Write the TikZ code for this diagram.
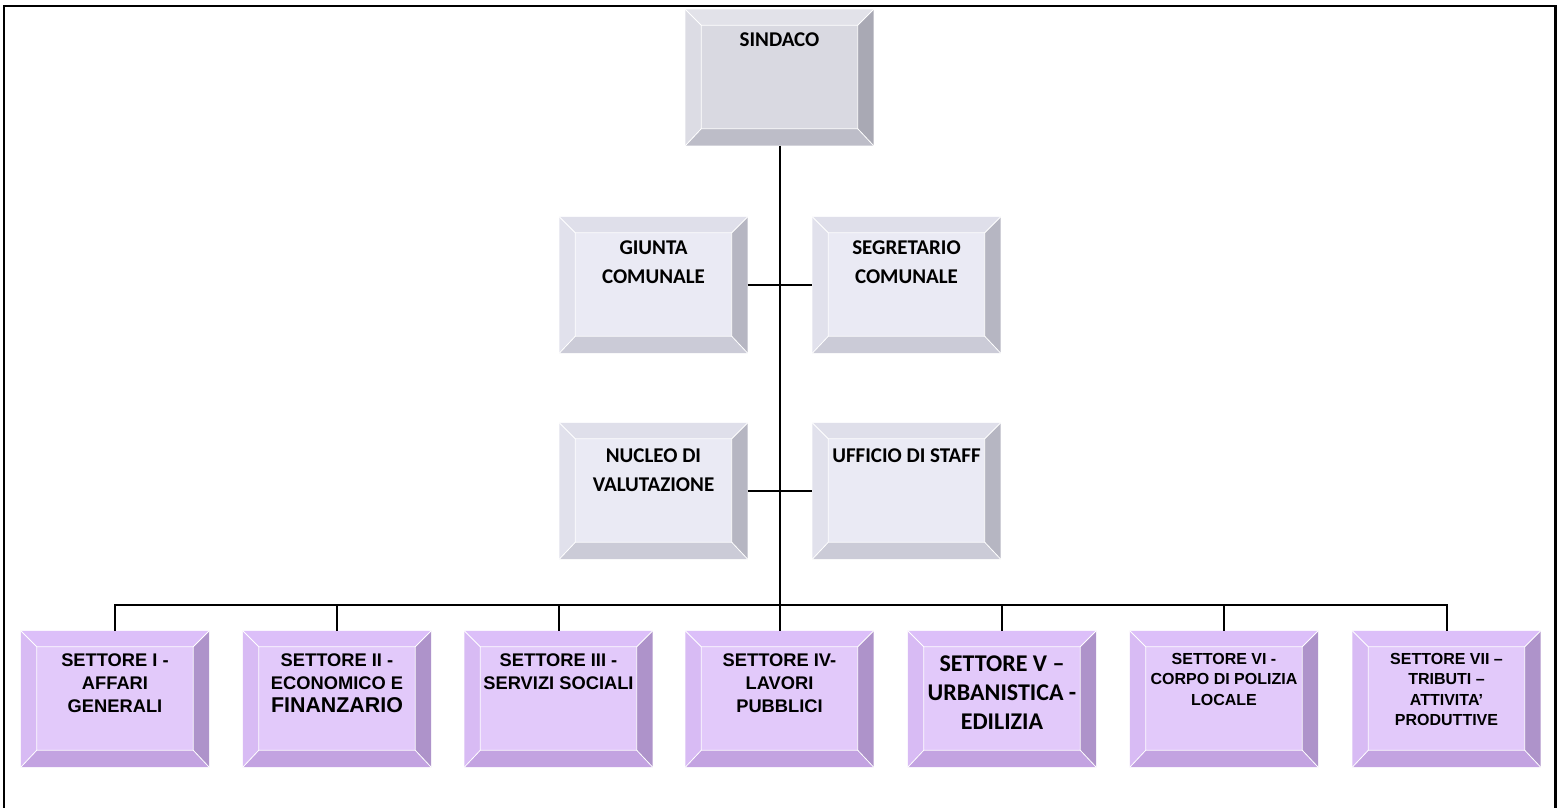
\documentclass[tikz,border=0pt]{standalone}
\usepackage{fontspec}
\newfontfamily\calibrifont{Carlito}
\newfontfamily\arialfont{Liberation Sans}
\usetikzlibrary{calc}

% grey (Sindaco)
\definecolor{sface}{HTML}{D9D9E1}
\definecolor{stop}{HTML}{E2E2E9}
\definecolor{sleft}{HTML}{DCDCE4}
\definecolor{sright}{HTML}{A9A9B4}
\definecolor{sbot}{HTML}{BDBDC8}
% light grey (staff boxes)
\definecolor{gface}{HTML}{EAEAF4}
\definecolor{gtop}{HTML}{DFDFEA}
\definecolor{gleft}{HTML}{E1E1EC}
\definecolor{gright}{HTML}{B6B6C2}
\definecolor{gbot}{HTML}{CBCBD7}
% purple (settori)
\definecolor{pface}{HTML}{E2C9FA}
\definecolor{ptop}{HTML}{DCBFF9}
\definecolor{pleft}{HTML}{D8BBF4}
\definecolor{pright}{HTML}{AE93CA}
\definecolor{pbot}{HTML}{C3A3E1}

\newcommand\gfont{\calibrifont\bfseries\fontsize{21}{29}\selectfont}
\newcommand\pfont{\arialfont\bfseries\fontsize{18.3}{23}\selectfont}
\newcommand\psmallfont{\arialfont\bfseries\fontsize{16}{20.5}\selectfont}
\newcommand\pcalfont{\calibrifont\bfseries\fontsize{24}{29}\selectfont}

\tikzset{
  conn/.style={draw=black, line width=2pt},
  bevline/.style={draw=white, line width=0.8pt},
  boxframe/.style={minimum width=188pt, minimum height=136pt, inner sep=0pt, draw=none},
  boxtext/.style={anchor=north, align=center, inner sep=0pt, text=black}
}

% #1 name, #2 centre, #3 palette, #4 offset of text top, #5 font, #6 text
\newcommand\bevelbox[6]{%
  \node[boxframe] (#1) at (#2) {};
  \coordinate (#1-a) at ($(#1.north west)+(16,16)$);
  \coordinate (#1-b) at ($(#1.north east)+(-16,16)$);
  \coordinate (#1-c) at ($(#1.south east)+(-16,-17)$);
  \coordinate (#1-d) at ($(#1.south west)+(16,-17)$);
  \fill[#3face] (#1-a) rectangle (#1-c);
  \fill[#3top] (#1.north west) -- (#1.north east) -- (#1-b) -- (#1-a) -- cycle;
  \fill[#3right] (#1.north east) -- (#1.south east) -- (#1-c) -- (#1-b) -- cycle;
  \fill[#3bot] (#1.south west) -- (#1.south east) -- (#1-c) -- (#1-d) -- cycle;
  \fill[#3left] (#1.north west) -- (#1-a) -- (#1-d) -- (#1.south west) -- cycle;
  \draw[bevline] (#1.north west) -- (#1-a) (#1.north east) -- (#1-b)
     (#1.south east) -- (#1-c) (#1.south west) -- (#1-d) (#1-a) rectangle (#1-c);
  \node[boxtext, font=#5] (#1-t) at ($(#1.north)+(0,#4)$) {#6};
}

\begin{document}
\begin{tikzpicture}[x=1pt, y=-1pt]
\useasboundingbox (0,0) rectangle (1558,807);
\fill[white] (0,0) rectangle (1558,807);

% outer frame
\draw[line width=2.2pt] (3.7,830) -- (3.7,5.7) -- (1555.5,5.7) -- (1555.5,830);

\bevelbox{sindaco}{779.5,77.5}{s}{23}{\gfont}{SINDACO}
\bevelbox{giunta}{653.5,285}{g}{24}{\gfont}{GIUNTA\\COMUNALE}
\bevelbox{segretario}{906.5,285}{g}{24}{\gfont}{SEGRETARIO\\COMUNALE}
\bevelbox{nucleo}{653.5,491}{g}{26}{\gfont}{NUCLEO DI\\VALUTAZIONE}
\bevelbox{ufficio}{906.5,491}{g}{26}{\gfont}{UFFICIO DI STAFF}

\bevelbox{s1}{115,699}{p}{22.3}{\pfont}{SETTORE I -\\AFFARI\\GENERALI}
\bevelbox{s2}{337,699}{p}{22.3}{\pfont}{SETTORE II -\\ECONOMICO E\\{\fontsize{21.4}{23}\selectfont FINANZARIO}}
\bevelbox{s3}{558.5,699}{p}{22.3}{\pfont}{SETTORE III -\\SERVIZI SOCIALI}
\bevelbox{s4}{779.5,699}{p}{22.3}{\pfont}{SETTORE IV-\\LAVORI\\PUBBLICI}
\bevelbox{s5}{1002,699}{p}{25}{\pcalfont}{SETTORE V –\\URBANISTICA -\\EDILIZIA}
\bevelbox{s6}{1224,699}{p}{22.3}{\psmallfont}{SETTORE VI -\\CORPO DI POLIZIA\\LOCALE}
\bevelbox{s7}{1446.5,699}{p}{22.3}{\psmallfont}{SETTORE VII –\\TRIBUTI –\\ATTIVITA’\\PRODUTTIVE}

% connectors
\draw[conn] (sindaco.south) -- (s4.north);
\draw[conn] (giunta.east) -- (segretario.west);
\draw[conn] (nucleo.east) -- (ufficio.west);
\draw[conn] (s1.north) -- ++(0,-26) coordinate (busL) -| (s7.north);
\foreach \s in {s2,s3,s5,s6}{
  \draw[conn] (\s.north) -- (\s.north |- busL);
}
\end{tikzpicture}
\end{document}
